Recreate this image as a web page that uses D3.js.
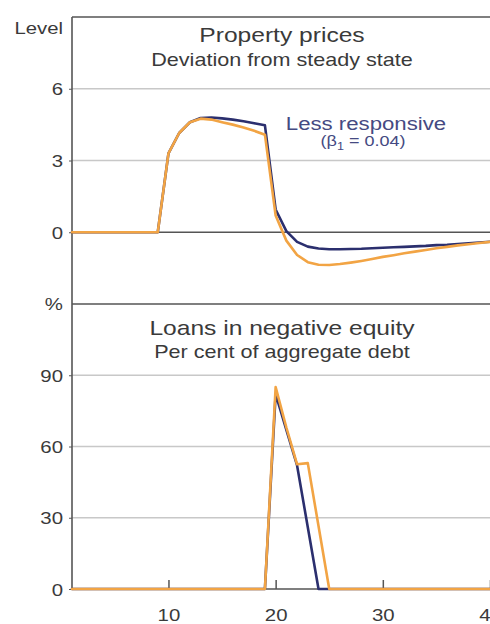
<!DOCTYPE html>
<html><head><meta charset="utf-8">
<script src="https://cdnjs.cloudflare.com/ajax/libs/d3/7.8.5/d3.min.js"></script>
<style>
html,body{margin:0;padding:0;background:#fff;overflow:hidden}
svg{display:block}
text{font-family:"Liberation Sans",Arial,sans-serif;fill:#3a3a3a}
</style></head>
<body><svg id="c" width="490" height="624"></svg>
<script>
// ---- data ----
const periods = d3.range(1, 41);
const priceLessResponsive = [0,0,0,0,0,0,0,0,0,3.3,4.15,4.6,4.78,4.8,4.76,4.71,4.64,4.56,4.47,0.95,0.05,-0.4,-0.6,-0.68,-0.71,-0.71,-0.7,-0.69,-0.67,-0.65,-0.63,-0.61,-0.59,-0.57,-0.54,-0.52,-0.49,-0.46,-0.43,-0.4];
const priceBaseline     = [0,0,0,0,0,0,0,0,0,3.3,4.15,4.6,4.75,4.71,4.6,4.5,4.38,4.24,4.08,0.7,-0.35,-0.95,-1.25,-1.36,-1.37,-1.33,-1.27,-1.2,-1.12,-1.03,-0.96,-0.88,-0.81,-0.74,-0.67,-0.61,-0.55,-0.5,-0.45,-0.4];
const loansLessResponsive = [0,0,0,0,0,0,0,0,0,0,0,0,0,0,0,0,0,0,0,82,67,52,26,0,0,0,0,0,0,0,0,0,0,0,0,0,0,0,0,0];
const loansBaseline       = [0,0,0,0,0,0,0,0,0,0,0,0,0,0,0,0,0,0,0,85,68,52.5,53,26.5,0,0,0,0,0,0,0,0,0,0,0,0,0,0,0,0];
const priceTicks = [0, 3, 6];
const loanTicks = [0, 30, 60, 90];
const xTicks = [10, 20, 30, 40];

const NAVY = "#2b2f6e", ORANGE = "#f2a444";
const SX = 1.2;
const svg = d3.select("#c");

const x = d3.scaleLinear().domain([1, 40]).range([72, 490]);
const yTop = d3.scaleLinear().domain([-3, 9]).range([304, 17]);
const yBot = d3.scaleLinear().domain([0, 120]).range([589, 304]);

function txt(px, py, s, size, anchor, sx, fill) {
  return svg.append("text")
    .attr("transform", `translate(${px},${py}) scale(${sx || SX},1)`)
    .attr("text-anchor", anchor || "middle")
    .style("font-size", size + "px")
    .style("fill", fill || "#3a3a3a")
    .text(s);
}

// gridlines
function grid(y, ticks) {
  svg.append("g").selectAll("line").data(ticks.filter(t => t !== 0)).join("line")
    .attr("x1", 72).attr("x2", 490)
    .attr("y1", d => y(d)).attr("y2", d => y(d))
    .attr("stroke", "#c8c8c8").attr("stroke-width", 1.3);
}
grid(yTop, priceTicks);
grid(yBot, loanTicks);

// zero lines & frames
const frame = svg.append("g").attr("stroke", "#555").attr("stroke-width", 1.6);
frame.append("line").attr("x1", 72).attr("x2", 490).attr("y1", yTop(0)).attr("y2", yTop(0)).attr("stroke-width", 1.4);
frame.append("line").attr("x1", 72).attr("x2", 490).attr("y1", 17).attr("y2", 17);
frame.append("line").attr("x1", 72).attr("x2", 490).attr("y1", 304).attr("y2", 304);
frame.append("line").attr("x1", 72).attr("x2", 490).attr("y1", yBot(0)).attr("y2", yBot(0));
frame.append("line").attr("x1", 72).attr("x2", 72).attr("y1", 17).attr("y2", 590);

// axes (left ticks)
function leftAxis(y, ticks) {
  const g = svg.append("g").attr("transform", "translate(72,0)")
    .call(d3.axisLeft(y).tickValues(ticks).tickSize(3).tickPadding(8));
  g.select(".domain").remove();
  g.selectAll(".tick line").attr("stroke", "#555");
  g.selectAll(".tick text")
    .attr("x", null).attr("dy", null)
    .attr("transform", "translate(-9,6) scale(" + SX + ",1)")
    .attr("text-anchor", "end")
    .style("font-family", '"Liberation Sans",Arial,sans-serif')
    .style("font-size", "17px").style("fill", "#3a3a3a");
}
leftAxis(yTop, priceTicks);
leftAxis(yBot, loanTicks);

// bottom axis
const gx = svg.append("g").attr("transform", `translate(0,${yBot(0)})`)
  .call(d3.axisBottom(x).tickValues(xTicks).tickSize(-9).tickPadding(0));
gx.select(".domain").remove();
gx.selectAll(".tick line").attr("stroke", "#555").attr("stroke-width", 1.5);
gx.selectAll(".tick text")
  .attr("y", null).attr("dy", null)
  .attr("transform", "translate(0,32) scale(" + SX + ",1)")
  .attr("text-anchor", "middle")
  .style("font-family", '"Liberation Sans",Arial,sans-serif')
  .style("font-size", "17px").style("fill", "#3a3a3a");

// lines
function drawLine(y, vals, color) {
  svg.append("path")
    .datum(vals.map((v, i) => [periods[i], v]))
    .attr("fill", "none").attr("stroke", color).attr("stroke-width", 2.6)
    .attr("stroke-linejoin", "round").attr("stroke-linecap", "round")
    .attr("d", d3.line().x(d => x(d[0])).y(d => y(d[1])));
}
drawLine(yTop, priceLessResponsive, NAVY);
drawLine(yTop, priceBaseline, ORANGE);
drawLine(yBot, loansLessResponsive, NAVY);
drawLine(yBot, loansBaseline, ORANGE);

// titles
txt(282, 42, "Property prices", 20.5);
txt(282, 66, "Deviation from steady state", 18);
txt(282, 335, "Loans in negative equity", 20.5);
txt(282, 358, "Per cent of aggregate debt", 18);

// axis unit labels
txt(63, 34, "Level", 16.5, "end", 1.23);
txt(63, 310, "%", 17, "end");

// annotation
txt(366, 130, "Less responsive", 18.5, "middle", SX, "#454a82");
const ann = txt(363, 146, "", 15, "middle", SX, "#454a82");
ann.append("tspan").text("(β");
ann.append("tspan").attr("dy", 4).style("font-size", "10.5px").text("1");
ann.append("tspan").attr("dy", -4).text(" = 0.04)");
</script></body></html>
